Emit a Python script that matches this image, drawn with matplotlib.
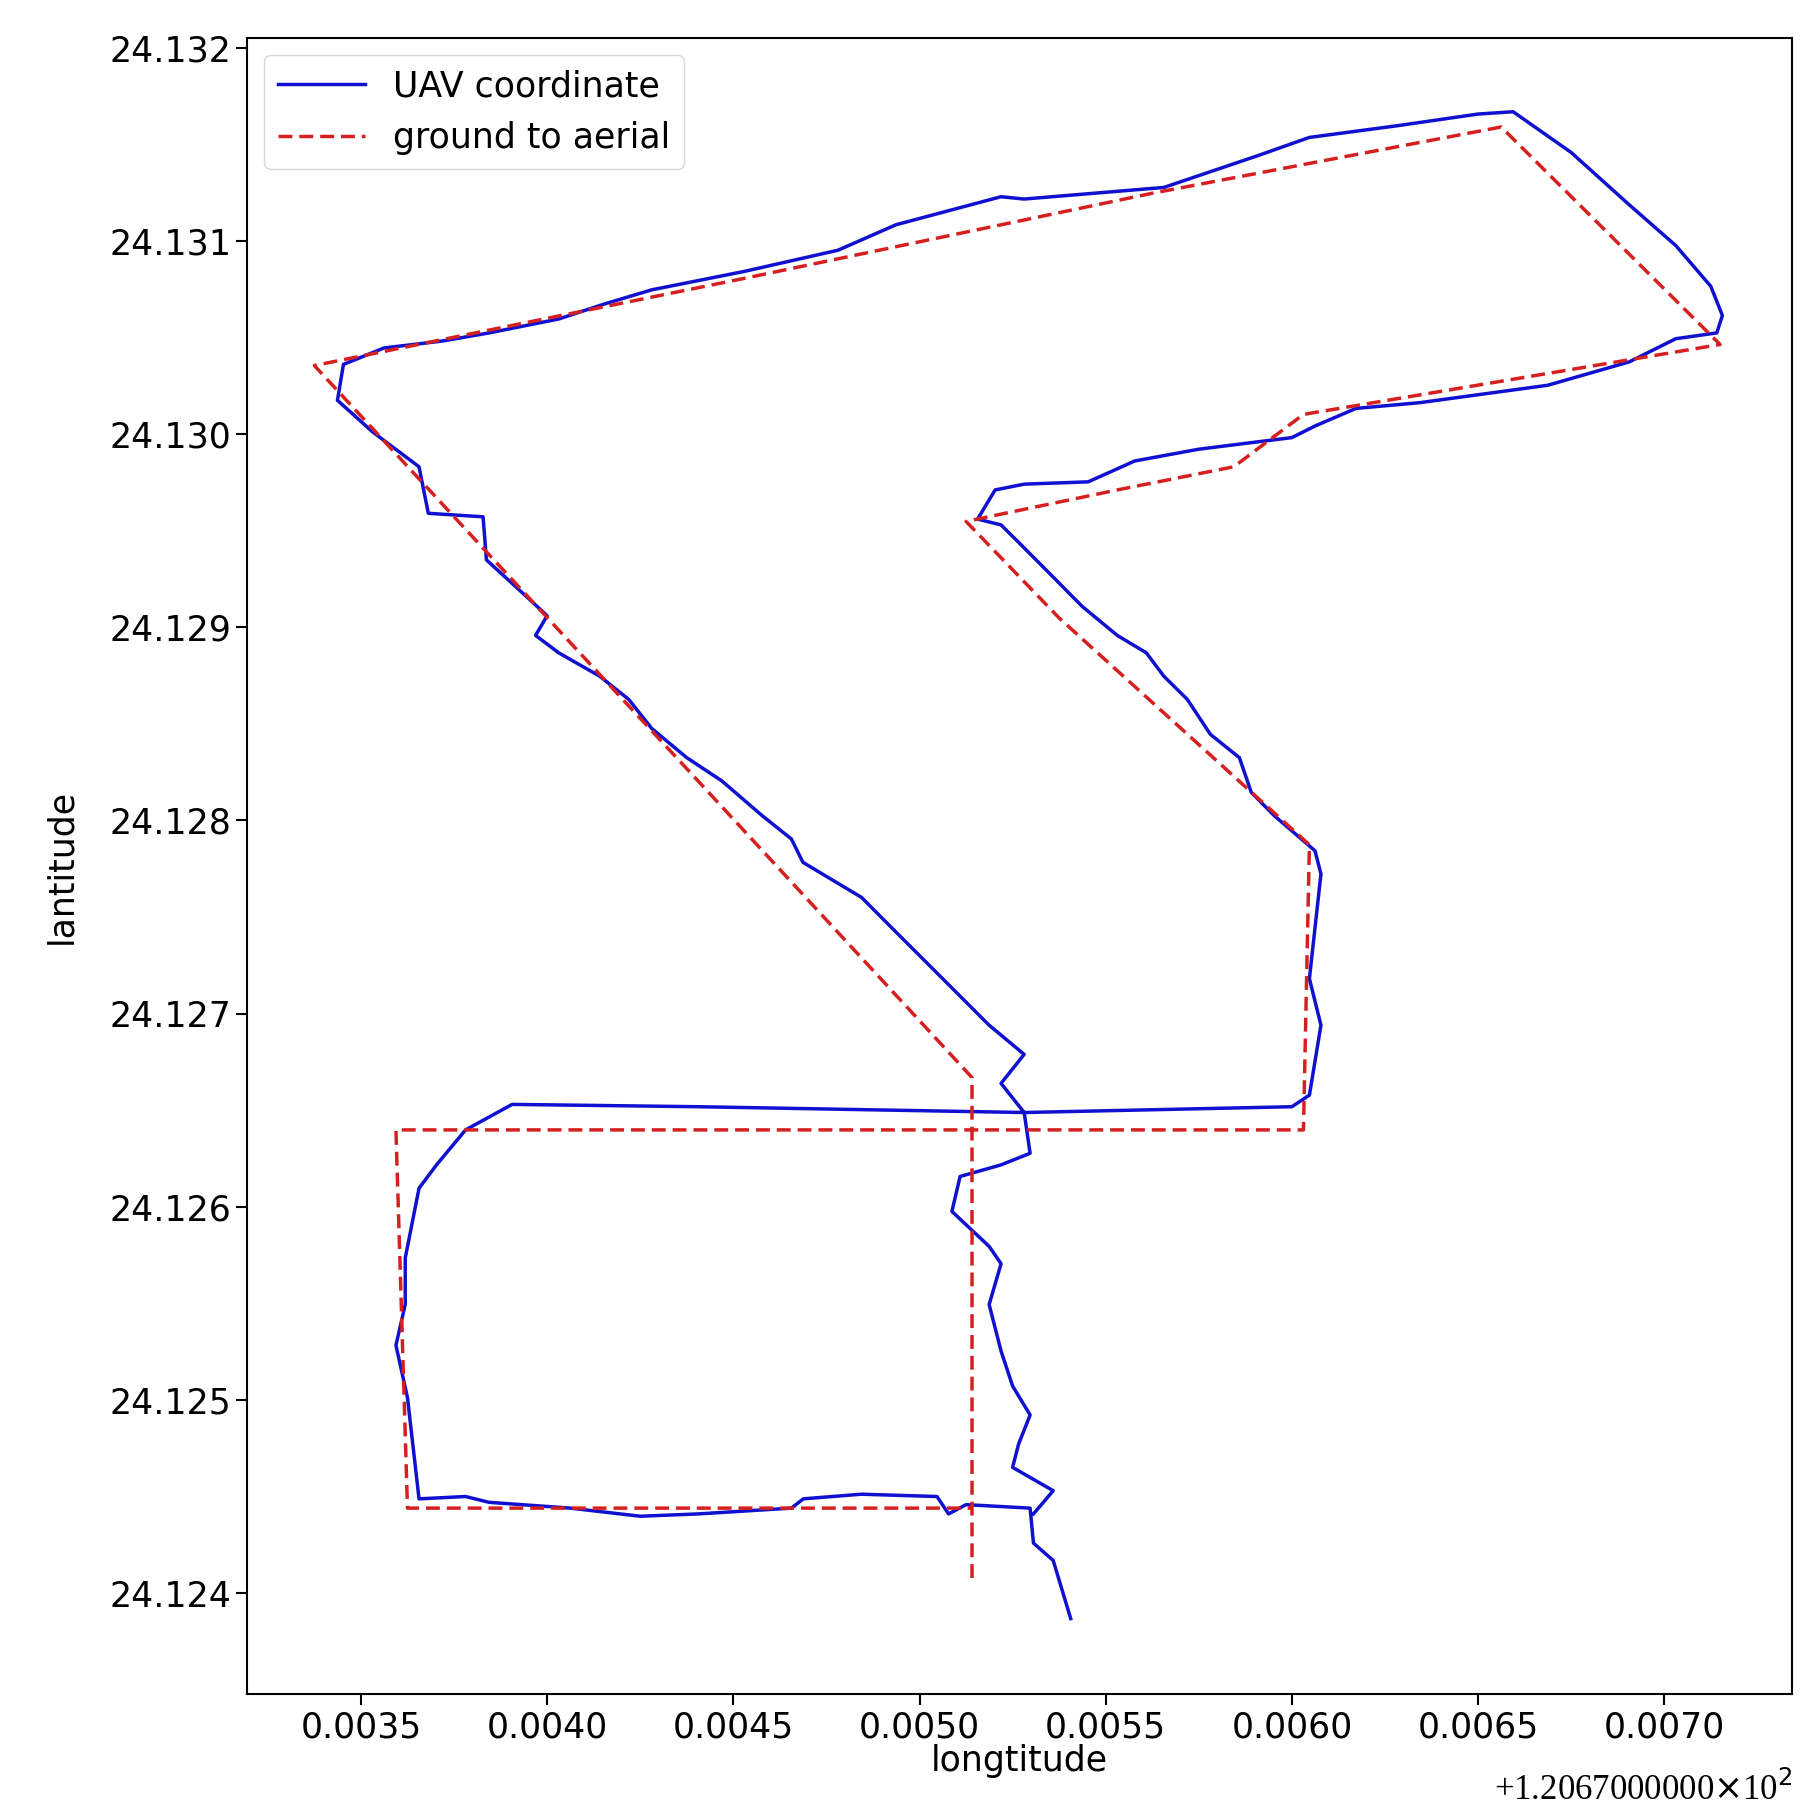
import matplotlib
matplotlib.use("Agg")
import matplotlib.pyplot as plt

# UAV track (longitude offset from 120.67, latitude)
uav_lon = [0.005406, 0.005359, 0.005306, 0.005297, 0.005125, 0.005078, 0.005047, 0.004844, 0.004688, 0.004656,
           0.004406, 0.004250, 0.004062, 0.003844, 0.003781, 0.003656, 0.003650, 0.003625, 0.003594, 0.003619,
           0.003619, 0.003656, 0.003703, 0.003781, 0.003906, 0.004406, 0.005281, 0.006000, 0.006047, 0.006078,
           0.006047, 0.006078, 0.006062, 0.005953, 0.005891, 0.005859, 0.005781, 0.005719, 0.005656, 0.005609,
           0.005531, 0.005437, 0.005344, 0.005266, 0.005219, 0.005156, 0.005203, 0.005281, 0.005453, 0.005578,
           0.005750, 0.006000, 0.006062, 0.006172, 0.006344, 0.006687, 0.006906, 0.007031, 0.007141, 0.007156,
           0.007125, 0.007031, 0.006906, 0.006750, 0.006594, 0.006500, 0.006281, 0.006047, 0.005906, 0.005656,
           0.005281, 0.005219, 0.004937, 0.004781, 0.004531, 0.004406, 0.004281, 0.004156, 0.004031, 0.003844,
           0.003719, 0.003562, 0.003453, 0.003437, 0.003531, 0.003656, 0.003681, 0.003828, 0.003837, 0.003922,
           0.004000, 0.003969, 0.004031, 0.004141, 0.004219, 0.004281, 0.004375, 0.004469, 0.004578, 0.004656,
           0.004687, 0.004844, 0.004937, 0.005031, 0.005187, 0.005281, 0.005219, 0.005281, 0.005297, 0.005219,
           0.005109, 0.005087, 0.005187, 0.005219, 0.005187, 0.005219, 0.005250, 0.005297, 0.005266, 0.005250,
           0.005359, 0.005306]
uav_lat = [24.123868, 24.124169, 24.124259, 24.124440, 24.124458, 24.124410, 24.124500, 24.124512, 24.124488, 24.124440,
           24.124410, 24.124398, 24.124440, 24.124470, 24.124500, 24.124488, 24.124590, 24.125012, 24.125283, 24.125494,
           24.125735, 24.126096, 24.126217, 24.126398, 24.126530, 24.126518, 24.126488, 24.126518, 24.126578, 24.126940,
           24.127181, 24.127723, 24.127843, 24.128024, 24.128145, 24.128325, 24.128446, 24.128627, 24.128747, 24.128868,
           24.128958, 24.129108, 24.129289, 24.129440, 24.129530, 24.129560, 24.129711, 24.129741, 24.129753, 24.129861,
           24.129922, 24.129982, 24.130042, 24.130133, 24.130163, 24.130253, 24.130374, 24.130494, 24.130524, 24.130614,
           24.130765, 24.130976, 24.131187, 24.131458, 24.131669, 24.131657, 24.131596, 24.131536, 24.131440, 24.131277,
           24.131217, 24.131229, 24.131084, 24.130952, 24.130843, 24.130795, 24.130747, 24.130675, 24.130596, 24.130524,
           24.130482, 24.130446, 24.130361, 24.130175, 24.130012, 24.129831, 24.129590, 24.129572, 24.129349, 24.129199,
           24.129060, 24.128958, 24.128868, 24.128747, 24.128627, 24.128476, 24.128325, 24.128205, 24.128024, 24.127904,
           24.127783, 24.127602, 24.127422, 24.127241, 24.126940, 24.126789, 24.126639, 24.126488, 24.126277, 24.126217,
           24.126157, 24.125976, 24.125795, 24.125705, 24.125494, 24.125253, 24.125072, 24.124922, 24.124771, 24.124651,
           24.124530, 24.124410]

# ground-to-aerial estimate
g2a_lon = [0.005141, 0.005141, 0.003375, 0.004531, 0.005625, 0.006562, 0.007150, 0.006031, 0.005844, 0.005531,
           0.005125, 0.005375, 0.006047, 0.006031, 0.003594, 0.003625, 0.005140]
g2a_lat = [24.124078, 24.126669, 24.130355, 24.130807, 24.131247, 24.131590, 24.130464, 24.130102, 24.129831, 24.129711,
           24.129548, 24.129048, 24.127874, 24.126398, 24.126398, 24.124440, 24.124440]

fig = plt.figure(figsize=(18.16, 18.16), dpi=100)
ax = fig.add_axes([0.136, 0.067, 0.851, 0.912])
ax.plot(uav_lon, uav_lat, color='#1010d0', linewidth=2.5, label='UAV coordinate')
ax.plot(g2a_lon, g2a_lat, color='#d62020', linewidth=2.5, linestyle='--', dashes=(4, 2), label='ground to aerial')
ax.set_xlim(0.003194, 0.007344)
ax.set_ylim(24.123476, 24.13205)
ax.set_xticks([0.0035, 0.0040, 0.0045, 0.0050, 0.0055, 0.0060, 0.0065, 0.0070])
ax.set_xticklabels(['0.0035', '0.0040', '0.0045', '0.0050', '0.0055', '0.0060', '0.0065', '0.0070'])
ax.set_yticks([24.124, 24.125, 24.126, 24.127, 24.128, 24.129, 24.130, 24.131, 24.132])
ax.set_yticklabels(['24.124', '24.125', '24.126', '24.127', '24.128', '24.129', '24.130', '24.131', '24.132'])
ax.tick_params(labelsize=25, length=8, width=1.5)
for s in ax.spines.values():
    s.set_linewidth(1.5)
ax.set_xlabel('longtitude', fontsize=25, labelpad=0)
ax.set_ylabel('lantitude', fontsize=25, labelpad=22)
ax.text(1.0, -0.047, r'+1.2067000000$\times$10$^2$', transform=ax.transAxes, ha='right', va='top',
        fontsize=25, family='Liberation Serif')
ax.legend(loc='upper left', fontsize=25, handlelength=2.5)
fig.savefig('out.png', dpi=100)
